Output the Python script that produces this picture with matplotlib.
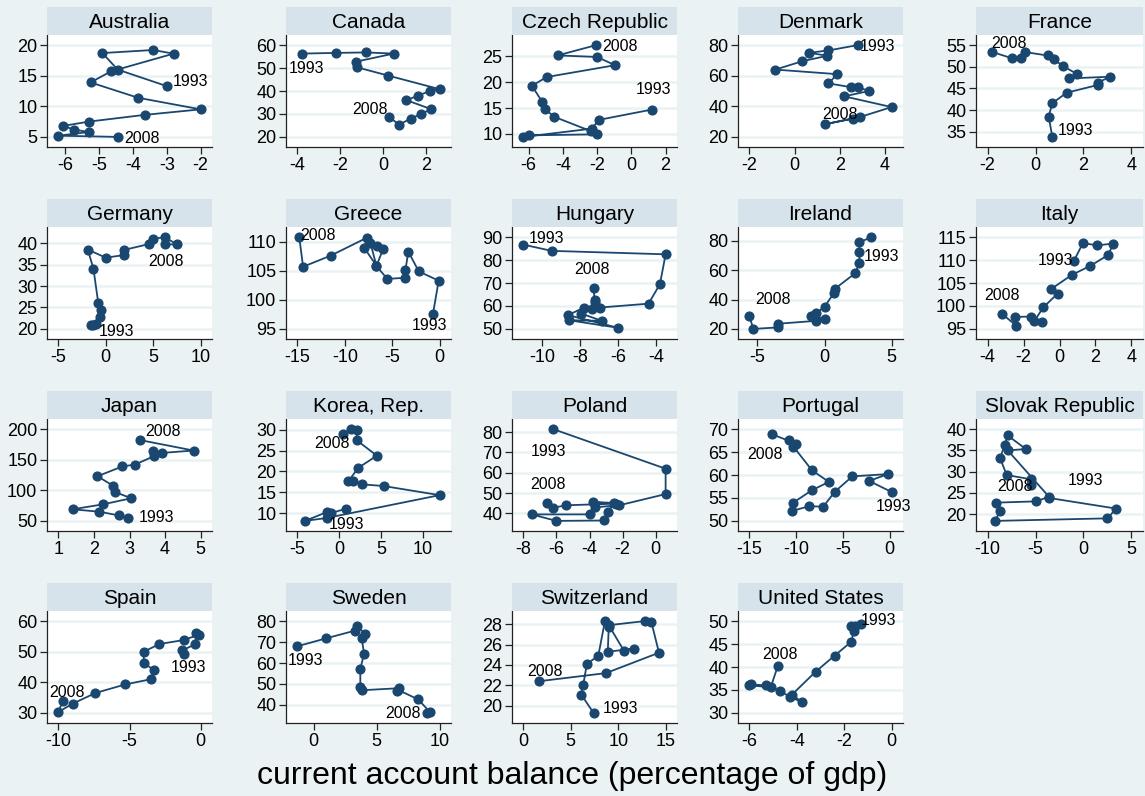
import matplotlib
matplotlib.use("Agg")
import matplotlib.pyplot as plt

plt.rcParams['font.family'] = ['Liberation Sans', 'DejaVu Sans']

# ---- data: current account balance (x) and the y series, 1993 -> 2008 ----
aus_x = [-3.0, -4.45, -4.9, -3.4, -2.8, -4.65, -5.25, -3.85, -2.0, -3.65, -5.3, -6.05, -5.75, -5.3, -6.2, -4.45]
aus_y = [13.3, 16.0, 18.7, 19.2, 18.6, 15.7, 13.9, 11.4, 9.5, 8.6, 7.5, 6.8, 6.2, 5.8, 5.2, 5.0]

can_x = [-3.8, -2.2, -0.8, 0.5, -1.25, -1.2, 0.25, 2.65, 2.2, 1.65, 1.1, 2.25, 1.8, 1.3, 0.75, 0.3]
can_y = [56.3, 56.6, 56.8, 56.3, 52.8, 50.3, 46.7, 40.8, 40.0, 38.0, 36.0, 32.1, 30.0, 28.0, 25.3, 28.7]

cze_x = [1.2, -1.9, -2.3, -6.3, -6.0, -2.0, -2.35, -4.5, -5.05, -5.2, -5.8, -4.95, -0.95, -2.0, -4.3, -2.05]
cze_y = [14.7, 12.7, 11.0, 9.4, 9.7, 9.9, 10.5, 13.3, 14.8, 16.2, 19.3, 21.0, 23.3, 24.9, 25.2, 27.2]

dnk_x = [2.8, 1.5, 0.65, 1.45, 0.35, -0.85, 1.9, 1.5, 2.5, 2.8, 3.3, 2.2, 4.3, 2.9, 1.35, 2.6]
dnk_y = [80.0, 76.5, 75.0, 73.0, 69.5, 64.0, 61.0, 55.0, 52.5, 52.5, 50.0, 46.5, 39.5, 33.0, 28.3, 32.0]

fra_x = [0.7, 0.55, 0.7, 1.3, 2.6, 2.6, 3.1, 1.4, 1.75, 1.15, 0.75, 0.5, -0.45, -0.6, -1.0, -1.8]
fra_y = [33.8, 38.5, 41.6, 44.0, 45.8, 46.3, 47.7, 47.3, 48.3, 50.1, 51.8, 52.6, 53.4, 52.0, 52.0, 53.4]

deu_x = [-1.0, -1.4, -1.6, -0.6, -0.5, -0.8, -1.3, -1.9, 0.0, 1.9, 1.9, 4.6, 5.0, 6.2, 7.5, 6.2]
deu_y = [21.2, 21.0, 20.8, 22.8, 24.3, 26.1, 34.0, 38.5, 36.6, 37.2, 38.4, 39.8, 41.0, 41.4, 39.7, 39.7]

grc_x = [-0.7, -0.1, -2.2, -3.3, -3.6, -3.7, -5.5, -6.67, -5.97, -6.56, -7.3, -6.67, -7.93, -7.66, -11.5, -14.4, -14.8]
grc_y = [97.6, 103.3, 104.9, 108.3, 105.2, 103.8, 103.6, 105.8, 108.7, 109.3, 109.8, 105.9, 108.9, 110.7, 107.6, 105.7, 110.8]

hun_x = [-11.0, -9.5, -3.5, -3.8, -4.4, -6.97, -7.8, -8.65, -6.02, -8.62, -6.85, -7.96, -7.37, -7.23, -7.25, -7.3]
hun_y = [86.7, 84.0, 82.5, 69.5, 61.0, 59.3, 59.3, 56.0, 50.5, 53.8, 53.5, 56.7, 58.5, 61.8, 62.5, 68.0]

irl_x = [3.5, 2.6, 2.6, 2.6, 2.3, 0.8, 0.7, 0.0, -0.6, -1.0, 0.0, -0.6, -3.5, -3.5, -5.3, -5.6]
irl_y = [82.5, 79.0, 72.5, 65.0, 58.0, 47.5, 44.5, 35.0, 31.0, 28.5, 27.0, 25.5, 23.5, 21.0, 20.0, 28.5]

ita_x = [0.8, 1.3, 2.1, 3.0, 2.7, 1.7, 0.7, -0.5, -0.1, -0.9, -1.4, -1.0, -1.6, -2.5, -2.4, -3.2]
ita_y = [109.8, 113.7, 113.2, 113.6, 111.1, 108.7, 106.8, 103.6, 102.7, 99.7, 96.7, 96.5, 97.7, 97.6, 95.7, 98.3]

jpn_x = [2.95, 2.7, 2.15, 1.4, 2.25, 3.05, 2.6, 2.55, 2.1, 2.8, 3.15, 3.7, 3.65, 3.9, 4.8, 3.3]
jpn_y = [55, 59, 65, 69, 77, 87, 97, 107, 123, 139, 142, 156, 165, 161, 165, 182]

kor_x = [0.8, -1.0, -1.5, -4.1, -1.5, 12.0, 5.3, 2.7, 1.6, 1.1, 2.3, 4.5, 2.1, 2.1, 1.4, 0.4]
kor_y = [11.0, 10.0, 10.2, 8.1, 8.8, 14.3, 16.5, 16.9, 17.6, 17.7, 20.9, 23.8, 27.5, 29.9, 30.2, 29.0]

pol_x = [-6.2, 0.6, 0.6, -2.2, -3.7, -4.0, -7.5, -6.0, -3.1, -2.9, -2.5, -3.8, -2.4, -5.4, -6.2, -6.6]
pol_y = [81.5, 62.0, 49.5, 44.0, 43.0, 39.5, 39.5, 36.3, 36.5, 40.5, 45.2, 45.5, 44.8, 44.0, 42.8, 45.0]

prt_x = [0.2, -2.2, -0.2, -4.0, -5.9, -7.1, -8.6, -10.4, -10.3, -8.3, -6.5, -8.3, -10.3, -10.8, -10.0, -12.6]
prt_y = [56.3, 58.7, 60.2, 59.7, 56.3, 53.1, 53.2, 52.2, 54.0, 56.7, 58.5, 61.0, 66.2, 67.7, 66.8, 68.9]

svk_x = [-3.6, 3.4, 2.5, -9.2, -8.7, -9.1, -4.9, -3.6, -7.9, -6.0, -7.9, -8.2, -8.7, -8.0, -5.5, -5.5]
svk_y = [23.8, 21.3, 19.0, 18.4, 20.8, 22.7, 23.0, 24.1, 35.0, 35.3, 38.5, 36.2, 33.2, 29.2, 28.2, 26.8]

esp_x = [-1.2, -1.3, -0.4, -0.3, -0.1, -1.2, -2.9, -4.0, -4.0, -3.3, -3.5, -5.3, -7.4, -9.0, -10.0, -9.7]
esp_y = [49.3, 50.4, 52.4, 56.2, 55.6, 53.8, 52.5, 50.0, 46.4, 44.0, 41.0, 39.3, 36.5, 33.0, 30.3, 33.8]

swe_x = [-1.3, 1.0, 3.3, 3.4, 4.1, 3.8, 4.0, 3.7, 3.7, 3.8, 6.8, 6.6, 6.7, 8.3, 9.2, 9.0]
swe_y = [68.0, 71.8, 75.5, 77.8, 74.0, 72.0, 64.5, 57.2, 48.7, 47.0, 48.0, 46.5, 47.2, 42.6, 36.8, 36.2]

che_x = [7.4, 6.1, 6.3, 6.7, 7.9, 8.6, 9.0, 8.9, 11.7, 10.6, 9.0, 12.8, 13.5, 14.3, 8.7, 1.6]
che_y = [19.3, 21.1, 22.0, 24.1, 24.9, 28.3, 27.7, 25.3, 25.6, 25.4, 27.9, 28.3, 28.2, 25.2, 23.2, 22.4]

usa_x = [-1.3, -1.7, -1.55, -1.6, -1.7, -2.4, -3.2, -4.2, -3.8, -4.3, -4.7, -5.3, -5.95, -6.0, -5.1, -4.8]
usa_y = [49.4, 48.9, 49.0, 47.8, 45.5, 42.5, 39.0, 34.0, 32.4, 33.5, 34.8, 36.0, 36.2, 36.0, 35.6, 40.2]

countries = ["Australia", "Canada", "Czech Republic", "Denmark", "France",
             "Germany", "Greece", "Hungary", "Ireland", "Italy",
             "Japan", "Korea, Rep.", "Poland", "Portugal", "Slovak Republic",
             "Spain", "Sweden", "Switzerland", "United States"]
series = [(aus_x, aus_y), (can_x, can_y), (cze_x, cze_y), (dnk_x, dnk_y), (fra_x, fra_y),
          (deu_x, deu_y), (grc_x, grc_y), (hun_x, hun_y), (irl_x, irl_y), (ita_x, ita_y),
          (jpn_x, jpn_y), (kor_x, kor_y), (pol_x, pol_y), (prt_x, prt_y), (svk_x, svk_y),
          (esp_x, esp_y), (swe_x, swe_y), (che_x, che_y), (usa_x, usa_y)]

x_ticks = [[-6, -5, -4, -3, -2], [-4, -2, 0, 2], [-6, -4, -2, 0, 2], [-2, 0, 2, 4], [-2, 0, 2, 4],
           [-5, 0, 5, 10], [-15, -10, -5, 0], [-10, -8, -6, -4], [-5, 0, 5], [-4, -2, 0, 2, 4],
           [1, 2, 3, 4, 5], [-5, 0, 5, 10], [-8, -6, -4, -2, 0], [-15, -10, -5, 0], [-10, -5, 0, 5],
           [-10, -5, 0], [0, 5, 10], [0, 5, 10, 15], [-6, -4, -2, 0]]
y_ticks = [[5, 10, 15, 20], [20, 30, 40, 50, 60], [10, 15, 20, 25], [20, 40, 60, 80], [35, 40, 45, 50, 55],
           [20, 25, 30, 35, 40], [95, 100, 105, 110], [50, 60, 70, 80, 90], [20, 40, 60, 80], [95, 100, 105, 110, 115],
           [50, 100, 150, 200], [10, 15, 20, 25, 30], [40, 50, 60, 70, 80], [50, 55, 60, 65, 70], [20, 25, 30, 35, 40],
           [30, 40, 50, 60], [40, 50, 60, 70, 80], [20, 22, 24, 26, 28], [30, 35, 40, 45, 50]]

# label offsets in pixels (first year, last year)
lab_off = [((24, 5), (24, -2)), ((5, -15), (-19, 7)), ((2, 20), (24, -1)), ((20, -1), (-13, 4)), ((23, 6), (17, 9)),
           ((20, -8), (1, -17)), ((-3, -12), (19, 2)), ((23, 6), (-2, 18)), ((10, -19), (24, 17)), ((-18, 0), (0, 18)),
           ((29, 0), (23, 9)), ((1, -16), (-11, -9)), ((-5, -22), (1, 19)), ((2, -15), (-7, -20)), ((37, 17), (-16, -1)),
           ((5, -14), (4, 9)), ((8, -14), (-24, -1)), ((27, 4), (6, 10)), ((18, 3), (2, 12))]

# ---- layout (pixels) ----
W, H = 1145, 796
col_left = [47, 286, 512, 738, 976]
col_w = [165, 165, 165, 165, 167]
row_top = [35, 227, 419, 611]
plot_h = 112
head_h = 28

bg = '#eaf2f3'
head_c = '#d6e3ea'
navy = '#1a476f'

fig = plt.figure(figsize=(W / 100, H / 100), dpi=100, facecolor=bg)

for i, name in enumerate(countries):
    r, c = divmod(i, 5)
    L, Wd, T = col_left[c], col_w[c], row_top[r]
    ax = fig.add_axes([L / W, 1 - (T + plot_h) / H, Wd / W, plot_h / H])
    hx = fig.add_axes([L / W, 1 - T / H, Wd / W, head_h / H])
    hx.set_facecolor(head_c)
    hx.set_xticks([])
    hx.set_yticks([])
    for s in hx.spines.values():
        s.set_visible(False)
    hx.text(0.5, 0.45, name, ha='center', va='center', fontsize=15, transform=hx.transAxes)

    xs, ys = series[i]
    ax.plot(xs, ys, '-o', color=navy, lw=1.3, ms=6.3, zorder=3)

    xt, yt = x_ticks[i], y_ticks[i]
    x0, x1 = min(min(xs), xt[0]), max(max(xs), xt[-1])
    y0, y1 = min(min(ys), yt[0]), max(max(ys), yt[-1])
    px, py = 0.08 * (x1 - x0), 0.11 * (y1 - y0)
    ax.set_xlim(x0 - px, x1 + px)
    ax.set_ylim(y0 - py, y1 + py)
    ax.set_xticks(xt)
    ax.set_yticks(yt)
    ax.set_xticklabels([str(v) for v in xt])
    ax.set_yticklabels([str(v) for v in yt])
    ax.tick_params(labelsize=13, length=5, width=0.9, color='#222222', pad=2)
    ax.grid(axis='y', color=bg, lw=1.8, zorder=0)
    ax.set_facecolor('white')
    for s in ['top', 'right']:
        ax.spines[s].set_visible(False)
    for s in ['left', 'bottom']:
        ax.spines[s].set_color('#222222')
        ax.spines[s].set_linewidth(0.9)

    (d1, d2) = lab_off[i]
    ax.annotate('1993', (xs[0], ys[0]), xytext=d1, textcoords='offset pixels',
                ha='center', va='center', fontsize=11.5)
    ax.annotate('2008', (xs[-1], ys[-1]), xytext=d2, textcoords='offset pixels',
                ha='center', va='center', fontsize=11.5)

fig.text(0.5, 1 - 776 / H, 'current account balance (percentage of gdp)',
         ha='center', va='center', fontsize=23)

fig.savefig('out.png', dpi=100, facecolor=bg)
